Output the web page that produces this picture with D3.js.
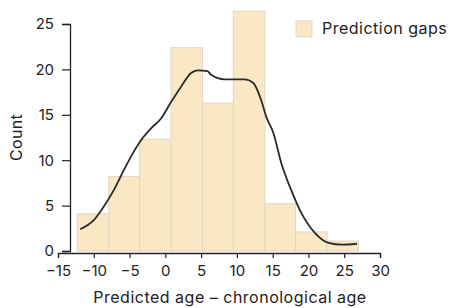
<!DOCTYPE html>
<html>
<head>
<meta charset="utf-8">
<script src="https://cdn.jsdelivr.net/npm/d3@7"></script>
<style>
  body { margin: 0; background: #fff; }
  svg text { font-family: Inter, "Liberation Sans", sans-serif; fill: #222; }
</style>
</head>
<body>
<div class="plot"></div>
<script>
// histogram of prediction gaps (bin edges + counts)
const binEdges = [-12.3, -7.9, -3.6, 0.8, 5.2, 9.5, 13.9, 18.2, 22.6, 27.0];
const counts = [4.1, 8.2, 12.3, 22.4, 16.3, 26.4, 5.2, 2.1, 1.1];

// density curve, scaled to counts
const kdeX = [-11.9, -10.0, -8.6, -7.2, -5.8, -4.8, -3.4, -2.0, -0.6, 0.8, 2.2, 3.6, 4.5, 5.9, 6.4,
              8.3, 11.1, 12.3, 13.4, 14.1, 15.1, 16.2, 17.6, 19.0, 20.9, 22.8, 24.7, 26.8];
const kdeY = [2.4, 3.4, 4.9, 6.7, 8.9, 10.4, 12.2, 13.5, 14.6, 16.4, 18.1, 19.6, 19.9, 19.8, 19.4,
              18.9, 18.9, 18.5, 16.6, 14.8, 13.0, 9.7, 6.7, 4.2, 2.0, 0.9, 0.7, 0.8];

const xTicks = [-15, -10, -5, 0, 5, 10, 15, 20, 25, 30];
const yTicks = [0, 5, 10, 15, 20, 25];

const width = 449, height = 308;

const svg = d3.select(".plot")
    .append("svg")
    .attr("width", width)
    .attr("height", height);

const x = d3.scaleLinear()
    .domain([-15, 30])
    .range([58, 380]);

const y = d3.scaleLinear()
    .domain([0, 25])
    .range([251, 24]);

const bins = counts.map((c, i) => ({ x0: binEdges[i], x1: binEdges[i + 1], count: c }));

svg.append("g")
    .selectAll("rect")
    .data(bins)
    .enter().append("rect")
    .attr("x", d => x(d.x0))
    .attr("y", d => y(d.count))
    .attr("width", d => x(d.x1) - x(d.x0))
    .attr("height", d => y(0) - y(d.count))
    .attr("fill", "#fae8c5")
    .attr("stroke", "#e0d7c7")
    .attr("stroke-width", 1);

const line = d3.line()
    .curve(d3.curveMonotoneX)
    .x(d => x(d[0]))
    .y(d => y(d[1]));

svg.append("path")
    .datum(kdeX.map((v, i) => [v, kdeY[i]]))
    .attr("fill", "none")
    .attr("stroke", "#2a2a2a")
    .attr("stroke-width", 1.8)
    .attr("d", line);

// axes
const xAxis = svg.append("g")
    .attr("transform", `translate(0, ${y(0) + 2})`)
    .call(d3.axisBottom(x).tickValues(xTicks).tickSize(5).tickPadding(7)
        .tickFormat(d => d < 0 ? "\u2212" + Math.abs(d) : d));

const yAxis = svg.append("g")
    .attr("transform", "translate(70, 0)")
    .call(d3.axisLeft(y).tickValues(yTicks).tickSize(8).tickPadding(8));

[xAxis, yAxis].forEach(g => {
    g.select(".domain").attr("stroke", "#222").attr("stroke-width", 1.3);
    g.selectAll(".tick line").attr("stroke", "#222").attr("stroke-width", 1.2);
    g.selectAll(".tick text").style("font-size", "15px").attr("fill", "#222");
});

svg.append("text")
    .attr("x", 230)
    .attr("y", 303)
    .attr("text-anchor", "middle")
    .style("font-size", "16px")
    .style("letter-spacing", "0.5px")
    .text("Predicted age \u2013 chronological age");

svg.append("text")
    .attr("transform", `translate(22, ${y(12.5)}) rotate(-90)`)
    .attr("text-anchor", "middle")
    .style("font-size", "16px")
    .style("letter-spacing", "0.3px")
    .text("Count");

// legend
const legend = svg.append("g").attr("transform", "translate(296, 21)");
legend.append("rect")
    .attr("width", 16).attr("height", 16)
    .attr("fill", "#fae8c5")
    .attr("stroke", "#e0d7c7");
legend.append("text")
    .attr("x", 26).attr("y", 13)
    .style("font-size", "16px")
    .style("letter-spacing", "0.5px")
    .text("Prediction gaps");
</script>
</body>
</html>
